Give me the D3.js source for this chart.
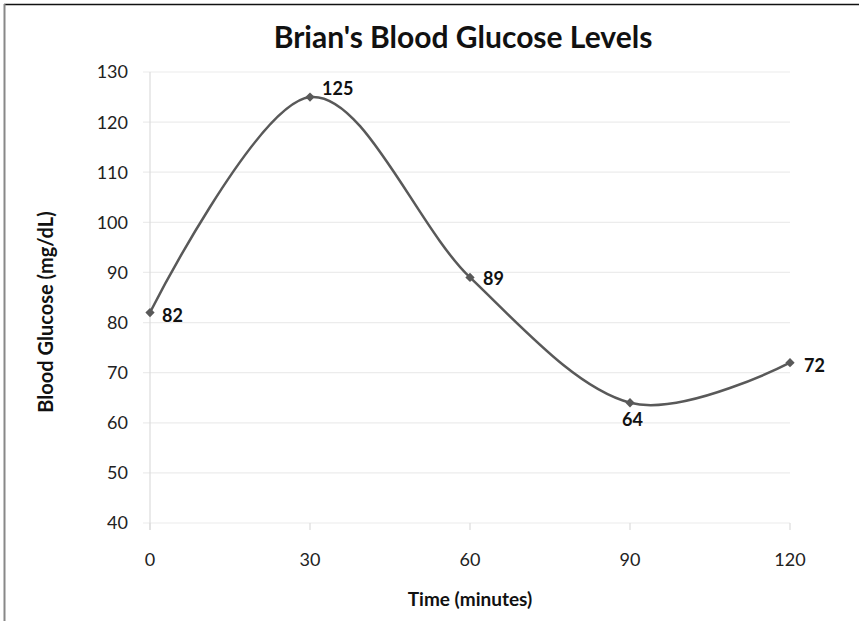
<!DOCTYPE html>
<html>
<head>
<meta charset="utf-8">
<script src="https://cdn.jsdelivr.net/npm/d3@7"></script>
<style>
  html, body { margin: 0; padding: 0; background: #fff; }
  svg { display: block; }
</style>
</head>
<body>
<svg id="chart" width="859" height="621"></svg>
<script>
// Glucose readings after a meal
const times = [0, 30, 60, 90, 120];
const glucose = [82, 125, 89, 64, 72];
const xTicks = [0, 30, 60, 90, 120];
const yTicks = [40, 50, 60, 70, 80, 90, 100, 110, 120, 130];

const svg = d3.select("#chart");
const W = 859, H = 621;
const font = "Lato, 'Open Sans', sans-serif";

const x = d3.scaleLinear().domain([0, 120]).range([150, 790]);
const y = d3.scaleLinear().domain([40, 130]).range([523, 72]);

// frame
svg.append("line").attr("x1", 4).attr("x2", W).attr("y1", 4.5).attr("y2", 4.5)
  .attr("stroke", "#111").attr("stroke-width", 1.5);
svg.append("line").attr("x1", 4.5).attr("x2", 4.5).attr("y1", 4).attr("y2", H)
  .attr("stroke", "#888").attr("stroke-width", 2);

// horizontal gridlines
svg.append("g").selectAll("line").data(yTicks).join("line")
  .attr("x1", 143).attr("x2", 790)
  .attr("y1", d => y(d)).attr("y2", d => y(d))
  .attr("stroke", "#ececec").attr("stroke-width", 1.2);

// vertical axis line
svg.append("line").attr("x1", x(0)).attr("x2", x(0)).attr("y1", y(130)).attr("y2", y(40) + 7)
  .attr("stroke", "#dcdcdc").attr("stroke-width", 1.2);

// x tick marks
svg.append("g").selectAll("line").data(xTicks).join("line")
  .attr("x1", d => x(d)).attr("x2", d => x(d))
  .attr("y1", y(40)).attr("y2", y(40) + 7)
  .attr("stroke", "#dcdcdc").attr("stroke-width", 1.2);

// y tick labels
svg.append("g").selectAll("text").data(yTicks).join("text")
  .attr("x", 128).attr("y", d => y(d)).attr("dy", "0.36em")
  .attr("text-anchor", "end")
  .attr("font-family", font).attr("font-size", 18).attr("fill", "#222")
  .text(d => d);

// x tick labels
svg.append("g").selectAll("text").data(xTicks).join("text")
  .attr("x", d => x(d)).attr("y", 566)
  .attr("text-anchor", "middle")
  .attr("font-family", font).attr("font-size", 18).attr("fill", "#222")
  .text(d => d);

// title
svg.append("text").attr("x", 463).attr("y", 48)
  .attr("text-anchor", "middle")
  .attr("font-family", font).attr("font-weight", "bold").attr("font-size", 30).attr("fill", "#111")
  .text("Brian's Blood Glucose Levels");

// axis titles
svg.append("text").attr("x", 470).attr("y", 606)
  .attr("text-anchor", "middle")
  .attr("font-family", font).attr("font-weight", "bold").attr("font-size", 19).attr("fill", "#111")
  .text("Time (minutes)");
svg.append("text")
  .attr("transform", "translate(53,312) rotate(-90)")
  .attr("text-anchor", "middle")
  .attr("font-family", font).attr("font-weight", "bold").attr("font-size", 20).attr("fill", "#111")
  .text("Blood Glucose (mg/dL)");

const pts = times.map((t, i) => ({ t, v: glucose[i] }));

// smoothed line
const line = d3.line().x(d => x(d.t)).y(d => y(d.v)).curve(d3.curveCatmullRom.alpha(0));
svg.append("path").datum(pts).attr("d", line)
  .attr("fill", "none").attr("stroke", "#595959").attr("stroke-width", 2.5);

// diamond markers
svg.append("g").selectAll("path").data(pts).join("path")
  .attr("transform", d => `translate(${x(d.t)},${y(d.v)})`)
  .attr("d", d3.symbol().type(d3.symbolDiamond2).size(55))
  .attr("fill", "#595959");

// value labels
const labelOffsets = [[12, 9], [12, -2], [13, 8], [-8, 23], [14, 9]];
svg.append("g").selectAll("text").data(pts).join("text")
  .attr("x", (d, i) => x(d.t) + labelOffsets[i][0])
  .attr("y", (d, i) => y(d.v) + labelOffsets[i][1])
  .attr("font-family", font).attr("font-weight", "bold").attr("font-size", 18).attr("fill", "#111")
  .text(d => d.v);
</script>
</body>
</html>
